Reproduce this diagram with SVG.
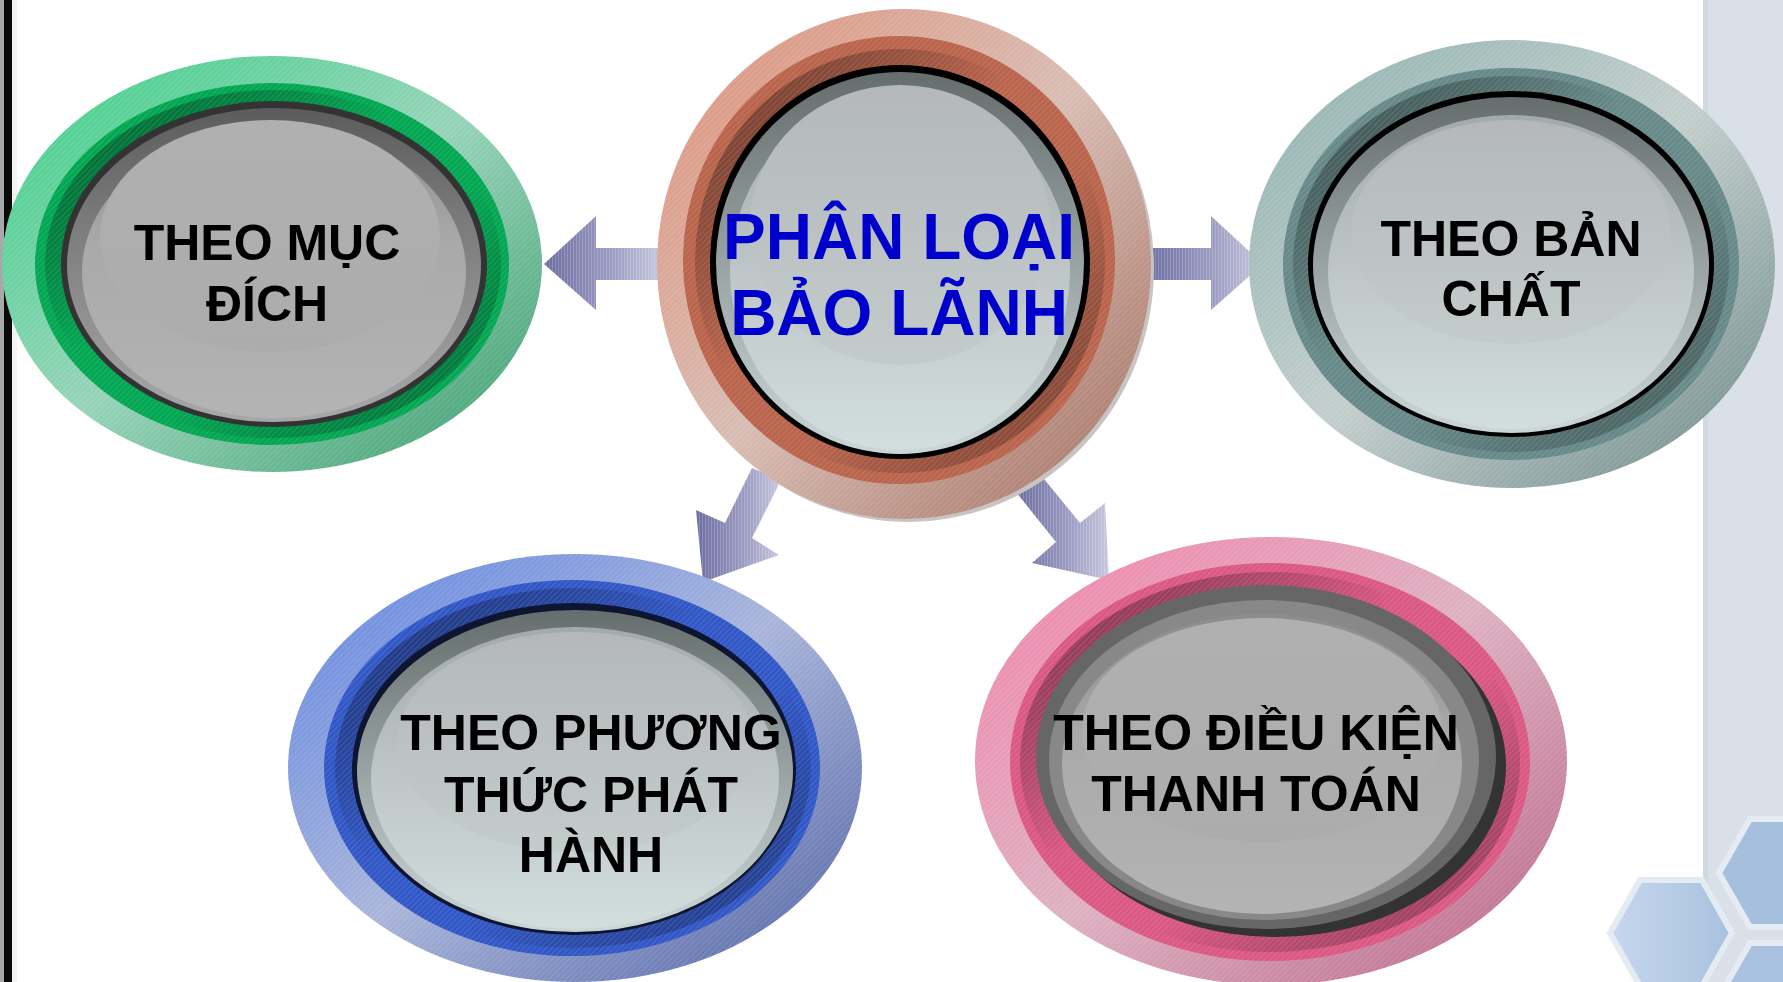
<svg xmlns="http://www.w3.org/2000/svg" width="1783" height="982" viewBox="0 0 1783 982">
<style>
.lbl{font-family:"Liberation Sans",Arial,sans-serif;font-weight:bold;font-size:50px;fill:#000;text-anchor:middle}
.ttl{font-family:"Liberation Sans",Arial,sans-serif;font-weight:bold;font-size:64px;fill:#0000cc;text-anchor:middle}
.hatch{fill:url(#hatch)}
.arrow{fill:url(#gArrow)}
.arrowH{fill:url(#vhatch)}
.hex{stroke:#e4ebf3;stroke-width:6}
</style>
<defs>
<pattern id="hatch" width="4" height="4" patternUnits="userSpaceOnUse" patternTransform="rotate(45)"><rect width="1.2" height="4" fill="#fff" fill-opacity="0.12"/></pattern>
<pattern id="vhatch" width="3" height="3" patternUnits="userSpaceOnUse"><rect width="1" height="3" fill="#fff" fill-opacity="0.2"/></pattern>
<linearGradient id="gArrow" x1="0" y1="0" x2="1" y2="0"><stop offset="0" stop-color="#6c6ca0"/><stop offset="0.6" stop-color="#9e9ec4"/><stop offset="1" stop-color="#c8c8de"/></linearGradient>
<linearGradient id="oGreen" x1="0" y1="0" x2="1" y2="1"><stop offset="0" stop-color="#38d086"/><stop offset="0.5" stop-color="#96d3b8"/><stop offset="1" stop-color="#389a6a"/></linearGradient>
<linearGradient id="oRust" x1="0" y1="0" x2="1" y2="1"><stop offset="0" stop-color="#de9078"/><stop offset="0.5" stop-color="#d8bcb3"/><stop offset="1" stop-color="#a06c5c"/></linearGradient>
<linearGradient id="oTeal" x1="0" y1="0" x2="1" y2="1"><stop offset="0" stop-color="#8cb0ae"/><stop offset="0.5" stop-color="#c2cecc"/><stop offset="1" stop-color="#6a8686"/></linearGradient>
<linearGradient id="oBlue" x1="0" y1="0" x2="1" y2="1"><stop offset="0" stop-color="#5f84e2"/><stop offset="0.5" stop-color="#a8b4da"/><stop offset="1" stop-color="#4e60a2"/></linearGradient>
<linearGradient id="oPink" x1="0" y1="0" x2="1" y2="1"><stop offset="0" stop-color="#f381a9"/><stop offset="0.5" stop-color="#ddb1c1"/><stop offset="1" stop-color="#b86285"/></linearGradient>
<linearGradient id="shade" x1="0" y1="0" x2="1" y2="1"><stop offset="0" stop-color="#000" stop-opacity="0.5"/><stop offset="0.42" stop-color="#000" stop-opacity="0"/><stop offset="0.6" stop-color="#000" stop-opacity="0"/><stop offset="1" stop-color="#000" stop-opacity="0.42"/></linearGradient>
<linearGradient id="bevB" x1="0" y1="0" x2="0" y2="1"><stop offset="0" stop-color="#656d6d"/><stop offset="0.35" stop-color="#8a9393"/><stop offset="1" stop-color="#cbd7d7"/></linearGradient>
<linearGradient id="inB" x1="0" y1="0" x2="0" y2="1"><stop offset="0" stop-color="#a2aaab"/><stop offset="0.5" stop-color="#bfc6c7"/><stop offset="1" stop-color="#d2dede"/></linearGradient>
<linearGradient id="hiB" x1="0" y1="0" x2="0" y2="1"><stop offset="0" stop-color="#b4b8ba"/><stop offset="1" stop-color="#c3cbcb"/></linearGradient>
<linearGradient id="bevG" x1="0" y1="0" x2="0" y2="1"><stop offset="0" stop-color="#5c5c5c"/><stop offset="0.35" stop-color="#7a7a7a"/><stop offset="1" stop-color="#a8a8a8"/></linearGradient>
<linearGradient id="inG" x1="0" y1="0" x2="0" y2="1"><stop offset="0" stop-color="#8c8c8c"/><stop offset="0.4" stop-color="#a9a9a9"/><stop offset="1" stop-color="#b4b4b4"/></linearGradient>
<linearGradient id="hiG" x1="0" y1="0" x2="0" y2="1"><stop offset="0" stop-color="#b0b0b0"/><stop offset="1" stop-color="#acacac"/></linearGradient>
<linearGradient id="hexB" x1="0" y1="0" x2="1" y2="0"><stop offset="0" stop-color="#c6d7ee"/><stop offset="1" stop-color="#a9c1de"/></linearGradient>
</defs>

<rect width="1783" height="982" fill="#ffffff"/>
<rect x="0" y="0" width="4" height="982" fill="#a8a8a8"/>
<rect x="4" y="0" width="8" height="982" fill="#0a0a0a"/>
<rect x="12" y="0" width="5" height="982" fill="#f2f2f2"/>
<rect x="1703" y="0" width="80" height="982" fill="#d9e0e7"/>
<rect x="1703" y="0" width="5" height="982" fill="#d2d9e2"/>
<g id="hexagons">
<polygon class="hex" points="1719,873 1750,819 1812,819 1843,873 1812,927 1750,927" fill="#a6bfdc"/>
<polygon class="hex" points="1719,997 1750,943 1812,943 1843,997 1812,1051 1750,1051" fill="#a9c1de"/>
<polygon class="hex" points="1610,933 1640,880 1702,880 1732,933 1702,986 1640,986" fill="url(#hexB)"/>
</g>

<g id="connectors">
<polygon class="arrow" points="544,264 596,216 596,248 662,248 662,280 596,280 596,310"/>
<polygon class="arrowH" points="544,264 596,216 596,248 662,248 662,280 596,280 596,310"/>
<polygon class="arrow" points="1145,248 1211,248 1211,216 1263,264 1211,310 1211,280 1145,280"/>
<polygon class="arrowH" points="1145,248 1211,248 1211,216 1263,264 1211,310 1211,280 1145,280"/>
<polygon class="arrow" points="752,468 781,480 752,538 779,555 703,582 696,510 725,523"/>
<polygon class="arrowH" points="752,468 781,480 752,538 779,555 703,582 696,510 725,523"/>
<polygon class="arrow" points="1016,492 1040,474 1080,523 1105,503 1109,580 1032,563 1056,542"/>
<polygon class="arrowH" points="1016,492 1040,474 1080,523 1105,503 1109,580 1032,563 1056,542"/>
</g>

<g id="node-muc-dich">
<ellipse cx="272" cy="264" rx="270" ry="208" fill="url(#oGreen)"/>
<ellipse class="hatch" cx="272" cy="264" rx="270" ry="208"/>
<ellipse cx="272" cy="264" rx="237" ry="181" fill="#00a651"/>
<ellipse cx="273" cy="264" rx="228" ry="174" fill="url(#shade)"/>
<ellipse class="hatch" cx="272" cy="264" rx="237" ry="181"/>
<ellipse cx="274" cy="264" rx="213" ry="163" fill="#333333"/>
<ellipse cx="274" cy="265" rx="207" ry="157" fill="url(#bevG)"/>
<ellipse cx="274" cy="272" rx="192" ry="146" fill="url(#inG)"/>
<ellipse cx="270" cy="236" rx="170" ry="116" fill="url(#hiG)"/>
<text class="lbl" x="267" y="260">THEO MỤC</text>
<text class="lbl" x="267" y="321">ĐÍCH</text>
</g>

<g id="node-ban-chat">
<ellipse cx="1512" cy="264" rx="263" ry="224" fill="url(#oTeal)"/>
<ellipse class="hatch" cx="1512" cy="264" rx="263" ry="224"/>
<ellipse cx="1511" cy="264" rx="228" ry="196" fill="#668888"/>
<ellipse cx="1511" cy="264" rx="218" ry="188" fill="url(#shade)"/>
<ellipse class="hatch" cx="1511" cy="264" rx="228" ry="196"/>
<ellipse cx="1511" cy="264" rx="203" ry="173" fill="#000"/>
<ellipse cx="1511" cy="265" rx="198" ry="168" fill="url(#bevB)"/>
<ellipse cx="1511" cy="272" rx="183" ry="157" fill="url(#inB)"/>
<ellipse cx="1511" cy="232" rx="160" ry="112" fill="url(#hiB)"/>
<text class="lbl" x="1511" y="256">THEO BẢN</text>
<text class="lbl" x="1511" y="316">CHẤT</text>
</g>

<g id="node-phuong-thuc">
<ellipse cx="575" cy="768" rx="287" ry="214" fill="url(#oBlue)"/>
<ellipse class="hatch" cx="575" cy="768" rx="287" ry="214"/>
<ellipse cx="572" cy="768" rx="248" ry="188" fill="#3056c6"/>
<ellipse cx="573" cy="768" rx="238" ry="180" fill="url(#shade)"/>
<ellipse class="hatch" cx="572" cy="768" rx="248" ry="188"/>
<ellipse cx="574" cy="769" rx="222" ry="166" fill="#0d1530"/>
<ellipse cx="575" cy="771" rx="218" ry="161" fill="url(#bevB)"/>
<ellipse cx="575" cy="778" rx="204" ry="151" fill="url(#inB)"/>
<ellipse cx="575" cy="742" rx="178" ry="110" fill="url(#hiB)"/>
<text class="lbl" x="591" y="750">THEO PHƯƠNG</text>
<text class="lbl" x="591" y="812">THỨC PHÁT</text>
<text class="lbl" x="591" y="872">HÀNH</text>
</g>

<g id="node-dieu-kien">
<ellipse cx="1271" cy="761" rx="296" ry="224" fill="url(#oPink)"/>
<ellipse class="hatch" cx="1271" cy="761" rx="296" ry="224"/>
<ellipse cx="1270" cy="762" rx="260" ry="199" fill="#da5782"/>
<ellipse cx="1270" cy="762" rx="250" ry="190" fill="url(#shade)"/>
<ellipse class="hatch" cx="1270" cy="762" rx="260" ry="199"/>
<ellipse cx="1276" cy="766" rx="230" ry="171" fill="#333333"/>
<ellipse cx="1266" cy="757" rx="230" ry="172" fill="#666666"/>
<ellipse cx="1264" cy="760" rx="215" ry="160" fill="#888888"/>
<ellipse cx="1262" cy="764" rx="200" ry="150" fill="url(#inG)"/>
<ellipse cx="1262" cy="730" rx="180" ry="112" fill="url(#hiG)"/>
<text class="lbl" x="1256" y="750">THEO ĐIỀU KIỆN</text>
<text class="lbl" x="1256" y="811">THANH TOÁN</text>
</g>

<g id="node-center">
<ellipse cx="908" cy="268" rx="246" ry="254" fill="#c8c4c2"/>
<ellipse cx="904" cy="264" rx="247" ry="255" fill="url(#oRust)"/>
<ellipse class="hatch" cx="904" cy="264" rx="247" ry="255"/>
<ellipse cx="899" cy="260" rx="216" ry="224" fill="#b9634b"/>
<ellipse cx="900" cy="261" rx="205" ry="212" fill="url(#shade)"/>
<ellipse class="hatch" cx="899" cy="260" rx="216" ry="224"/>
<ellipse cx="900" cy="262" rx="190" ry="197" fill="#000"/>
<ellipse cx="900" cy="263" rx="184" ry="191" fill="url(#bevB)"/>
<ellipse cx="900" cy="272" rx="170" ry="178" fill="url(#inB)"/>
<ellipse cx="900" cy="225" rx="150" ry="140" fill="url(#hiB)"/>
<text class="ttl" x="899" y="259">PHÂN LOẠI</text>
<text class="ttl" x="899" y="335">BẢO LÃNH</text>
</g>
</svg>
